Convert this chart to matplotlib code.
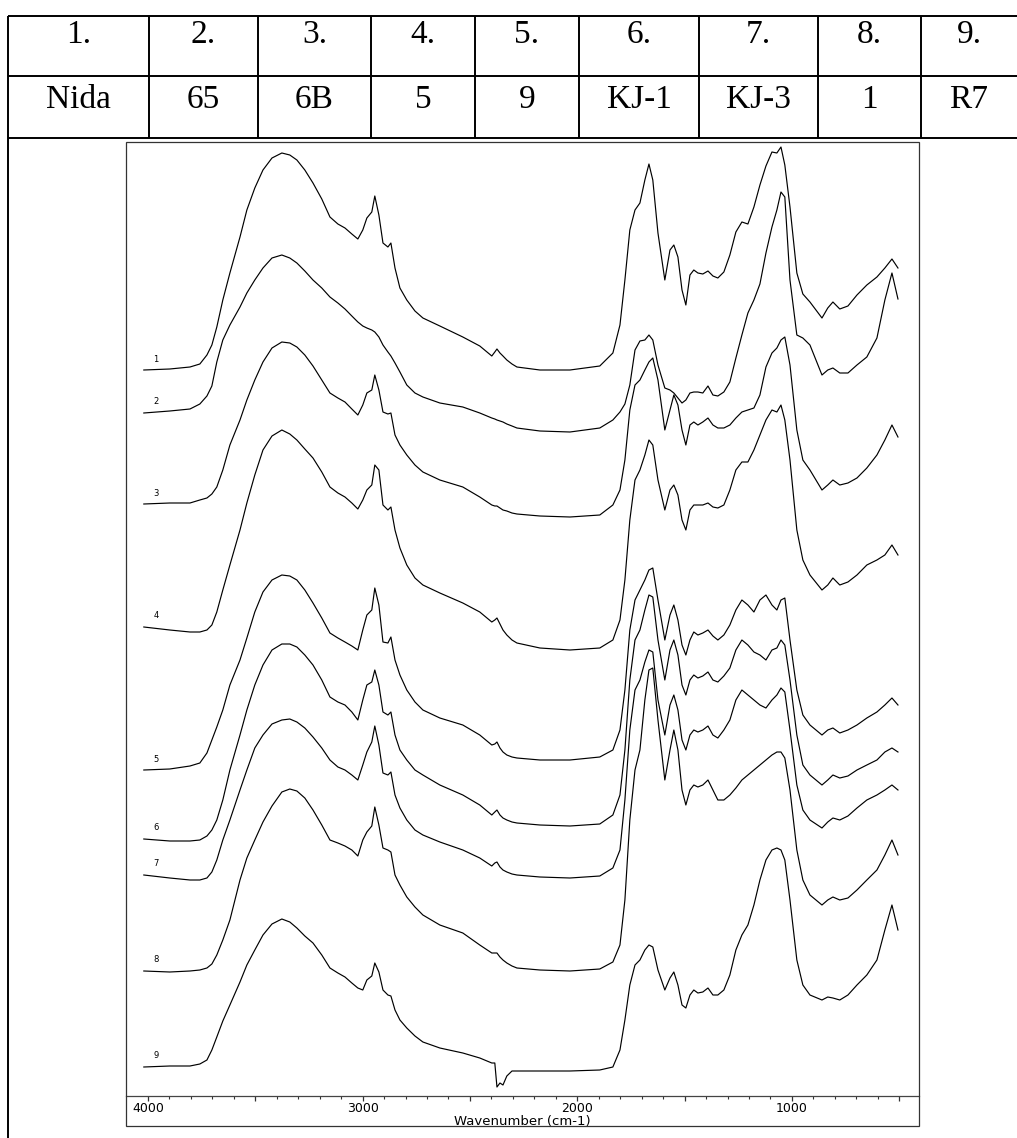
import matplotlib
matplotlib.use("Agg")
import matplotlib.pyplot as plt
import numpy as np
from matplotlib.ticker import FixedLocator, FuncFormatter
from matplotlib.patches import Rectangle

# table above the spectra
sample_numbers = ["1.", "2.", "3.", "4.", "5.", "6.", "7.", "8.", "9."]
sample_names = ["Nida", "65", "6B", "5", "9", "KJ-1", "KJ-3", "1", "R7"]
spectrum_labels = ["1", "2", "3", "4", "5", "6", "7", "8", "9"]

# wavenumber (cm-1) of the read points, shared by all spectra
wavenumber = [4019, 3898, 3804, 3758, 3725, 3702, 3679, 3651, 3618, 3571,
              3539, 3502, 3464, 3422, 3376, 3339, 3306, 3269, 3231, 3190,
              3152, 3115, 3082, 3050, 3022, 2999, 2980, 2957, 2943, 2924,
              2905, 2882, 2868, 2849, 2826, 2794, 2756, 2719, 2640, 2533,
              2454, 2398, 2384, 2374, 2360, 2346, 2328, 2304, 2281, 2174,
              2034, 1895, 1834, 1801, 1778, 1755, 1731, 1708, 1685, 1666,
              1648, 1624, 1592, 1568, 1550, 1531, 1512, 1494, 1475, 1457,
              1438, 1415, 1391, 1368, 1345, 1317, 1289, 1261, 1233, 1205,
              1177, 1149, 1121, 1093, 1070, 1051, 1033, 1009, 977, 949,
              916, 860, 833, 809, 777, 739, 697, 651, 604, 567,
              534, 506]

# stacked absorbance, arbitrary units
sp1 = [726, 727, 729, 732, 741, 751, 769, 796, 823, 859,
       886, 908, 926, 938, 943, 941, 936, 926, 913, 897,
       879, 872, 868, 862, 857, 866, 878, 884, 900, 881,
       853, 849, 853, 828, 808, 796, 785, 778, 770, 759,
       750, 740, 744, 747, 743, 740, 736, 732, 729, 726,
       726, 730, 743, 771, 816, 866, 886, 893, 916, 932,
       916, 863, 816, 846, 851, 839, 806, 791, 821, 826,
       823, 822, 825, 820, 818, 824, 841, 864, 874, 872,
       889, 911, 930, 944, 943, 949, 931, 889, 823, 802,
       794, 778, 788, 794, 787, 790, 801, 811, 819, 828,
       837, 828]
sp2 = [683, 685, 687, 692, 700, 710, 734, 756, 771, 789,
       803, 816, 828, 838, 841, 838, 833, 825, 816, 808,
       799, 793, 787, 780, 774, 770, 768, 766, 764, 759,
       751, 744, 740, 733, 724, 711, 703, 699, 693, 689,
       683, 678, 677, 676, 675, 674, 672, 670, 668, 665,
       664, 668, 676, 684, 692, 711, 746, 755, 756, 761,
       756, 731, 708, 706, 703, 698, 693, 696, 703, 704,
       704, 703, 710, 701, 700, 704, 714, 738, 761, 783,
       796, 812, 843, 869, 886, 904, 899, 816, 761, 758,
       751, 721, 726, 728, 723, 723, 731, 739, 758, 796,
       823, 797]
sp3 = [592, 593, 593, 596, 598, 602, 609, 626, 651, 676,
       696, 716, 734, 748, 754, 753, 749, 741, 730, 716,
       703, 698, 694, 687, 681, 691, 703, 706, 721, 706,
       684, 682, 683, 661, 651, 641, 631, 624, 616, 609,
       599, 591, 590, 590, 588, 586, 585, 583, 582, 580,
       579, 581, 591, 606, 636, 686, 711, 716, 726, 734,
       738, 716, 666, 686, 701, 691, 666, 651, 671, 674,
       671, 674, 678, 671, 668, 668, 671, 678, 684, 686,
       688, 701, 729, 743, 748, 756, 759, 731, 666, 636,
       626, 606, 611, 616, 611, 613, 618, 628, 641, 656,
       671, 659]
sp4 = [469, 466, 464, 464, 466, 471, 484, 506, 531, 566,
       593, 621, 646, 660, 666, 662, 656, 647, 638, 624,
       609, 603, 599, 593, 587, 596, 606, 611, 631, 626,
       591, 586, 589, 566, 548, 531, 518, 511, 503, 493,
       484, 474, 476, 478, 472, 466, 461, 456, 453, 448,
       446, 448, 456, 476, 516, 576, 616, 626, 641, 656,
       651, 616, 586, 606, 611, 601, 576, 566, 586, 591,
       591, 591, 593, 589, 588, 591, 606, 626, 634, 634,
       646, 661, 676, 686, 684, 691, 676, 636, 566, 536,
       521, 506, 511, 518, 511, 514, 521, 531, 536, 541,
       551, 541]
sp5 = [326, 327, 330, 333, 343, 356, 369, 386, 411, 436,
       458, 484, 504, 516, 521, 520, 516, 506, 493, 478,
       463, 458, 454, 450, 446, 466, 481, 486, 508, 491,
       454, 453, 459, 436, 421, 406, 394, 386, 378, 371,
       361, 351, 352, 354, 348, 344, 341, 339, 338, 336,
       336, 339, 346, 366, 406, 466, 496, 506, 516, 526,
       528, 496, 456, 481, 491, 476, 451, 441, 456, 464,
       461, 463, 466, 460, 456, 461, 471, 486, 496, 491,
       484, 496, 501, 491, 486, 496, 498, 456, 406, 381,
       371, 361, 366, 368, 363, 366, 371, 378, 384, 391,
       398, 391]
sp6 = [257, 255, 255, 256, 260, 266, 276, 296, 326, 361,
       386, 411, 431, 446, 452, 452, 449, 441, 431, 416,
       399, 394, 391, 384, 376, 396, 411, 414, 426, 411,
       384, 381, 384, 361, 346, 336, 326, 321, 311, 301,
       291, 281, 284, 286, 281, 278, 276, 274, 273, 271,
       270, 272, 281, 301, 346, 416, 456, 466, 486, 501,
       499, 456, 416, 446, 456, 441, 411, 401, 416, 421,
       418, 420, 424, 416, 414, 420, 428, 446, 456, 451,
       444, 441, 436, 446, 448, 456, 451, 416, 361, 331,
       321, 311, 316, 321, 318, 320, 326, 331, 336, 344,
       348, 344]
sp7 = [221, 218, 216, 216, 218, 224, 236, 256, 276, 306,
       326, 348, 361, 372, 376, 377, 374, 368, 359, 348,
       336, 329, 326, 321, 316, 331, 344, 354, 370, 351,
       323, 321, 324, 301, 288, 276, 266, 261, 254, 246,
       238, 230, 233, 234, 229, 226, 224, 222, 221, 219,
       218, 220, 228, 246, 296, 366, 406, 416, 434, 446,
       444, 396, 361, 391, 401, 386, 356, 346, 361, 366,
       364, 366, 370, 361, 358, 366, 376, 396, 406, 401,
       396, 391, 388, 396, 401, 408, 404, 366, 311, 286,
       276, 268, 274, 278, 276, 280, 288, 296, 301, 306,
       311, 306]
sp8 = [125, 124, 125, 126, 128, 132, 141, 156, 176, 216,
       238, 256, 274, 290, 304, 307, 305, 298, 286, 271,
       256, 253, 250, 246, 240, 256, 264, 270, 289, 271,
       248, 246, 244, 221, 211, 199, 189, 181, 171, 163,
       151, 143, 143, 143, 139, 136, 133, 130, 128, 126,
       125, 127, 134, 151, 196, 276, 326, 346, 396, 426,
       428, 376, 316, 346, 366, 346, 306, 291, 306, 311,
       309, 311, 316, 306, 296, 296, 301, 308, 316, 321,
       326, 331, 336, 341, 344, 344, 338, 306, 246, 216,
       201, 191, 196, 199, 196, 198, 206, 216, 226, 241,
       256, 241]
sp9 = [29, 30, 30, 32, 36, 46, 59, 75, 91, 114,
       131, 146, 161, 172, 177, 174, 168, 160, 153, 141,
       128, 123, 119, 113, 108, 106, 116, 120, 133, 124,
       106, 101, 100, 86, 76, 68, 60, 54, 48, 43,
       38, 33, 33, 9, 13, 11, 20, 25, 25, 25,
       25, 26, 29, 46, 76, 111, 131, 136, 146, 151,
       149, 126, 106, 118, 124, 111, 91, 88, 101, 106,
       103, 104, 108, 101, 101, 106, 121, 146, 161, 171,
       191, 216, 236, 246, 248, 246, 236, 196, 136, 111,
       101, 96, 99, 98, 96, 101, 111, 121, 136, 166,
       191, 166]

spectra = [sp1, sp2, sp3, sp4, sp5, sp6, sp7, sp8, sp9]

W, H = 1017, 1138
fig = plt.figure(figsize=(W / 100, H / 100), dpi=100)


def fx(px):
    return px / W


def fy(py):
    return 1 - py / H


# --- table drawn in pixel space of the page
tab = fig.add_axes([0, 0, 1, 1])
tab.set_xlim(0, W)
tab.set_ylim(H, 0)
tab.axis("off")
col_edges = [8, 149, 258, 371, 475, 579, 699, 818, 921, 1017]
for y in (16, 76, 138):
    tab.plot([8, W], [y, y], color="black", lw=1.4, solid_capstyle="butt")
tab.plot([8, 8], [16, H], color="black", lw=1.4, solid_capstyle="butt")
for x in col_edges[1:-1]:
    tab.plot([x, x], [16, 138], color="black", lw=1.4, solid_capstyle="butt")
for i, (num, name) in enumerate(zip(sample_numbers, sample_names)):
    cx = (col_edges[i] + col_edges[i + 1]) / 2
    tab.text(cx, 43, num, family="Liberation Serif", size=24, ha="center", va="baseline")
    tab.text(cx, 108, name, family="Liberation Serif", size=24, ha="center", va="baseline")

# --- spectra
ax = fig.add_axes([fx(126), fy(1096), fx(919) - fx(126), fy(142) - fy(1096)])
for sp in spectra:
    ax.plot(wavenumber, sp, color="black", lw=0.85, solid_joinstyle="round")
for lab, sp in zip(spectrum_labels, spectra):
    ax.text(3962, sp[0] + 11, lab, fontsize=6, ha="center", va="center")

ax.set_xlim(4102, 408)
ax.set_ylim(0, 954)
ax.set_yticks([])
for side in ("top", "left", "right"):
    ax.spines[side].set_visible(False)
ax.spines["bottom"].set_color("#444444")
ax.spines["bottom"].set_linewidth(0.9)
ax.patch.set_alpha(0)

ax.xaxis.set_major_locator(FixedLocator(np.arange(500, 4001, 500)))
ax.xaxis.set_minor_locator(FixedLocator(np.arange(500, 4001, 100)))
ax.xaxis.set_major_formatter(FuncFormatter(lambda v, p: f"{int(v)}" if v % 1000 == 0 else ""))
ax.tick_params(axis="x", which="major", direction="out", length=3.5, width=0.9,
               pad=1, labelsize=9, color="#333333")
ax.tick_params(axis="x", which="minor", direction="out", length=2, width=0.8, color="#333333")
ax.set_xlabel("Wavenumber (cm-1)", fontsize=9.5, labelpad=0)

frame = Rectangle((fx(126), fy(1126)), fx(919) - fx(126), fy(142) - fy(1126),
                  transform=fig.transFigure, fill=False, ec="#333333", lw=0.9)
fig.add_artist(frame)

fig.savefig("out.png", dpi=100)
